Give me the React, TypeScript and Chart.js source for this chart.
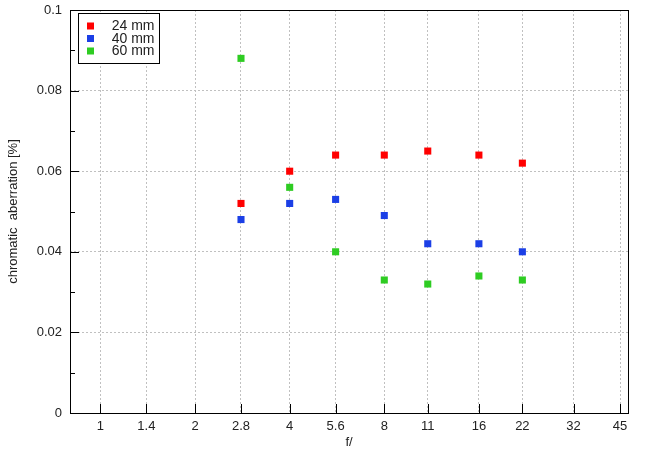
import React, { useEffect, useRef } from "react"
import { Chart, registerables } from "chart.js"

Chart.register(...registerables)

// f-numbers measured, and the f-number ticks on the x axis
const apertures = [2.8, 4, 5.6, 8, 11, 16, 22]
const xTickValues = [1, 1.4, 2, 2.8, 4, 5.6, 8, 11, 16, 22, 32, 45]

const seriesLabels = ["24 mm", "40 mm", "60 mm"]
const ca24 = [0.052, 0.06, 0.064, 0.064, 0.065, 0.064, 0.062]
const ca40 = [0.048, 0.052, 0.053, 0.049, 0.042, 0.042, 0.04]
const ca60 = [0.088, 0.056, 0.04, 0.033, 0.032, 0.034, 0.033]
const seriesColors = ["#ff0000", "#1b3fe6", "#2ecc22"]

const FONT = "'Liberation Sans', Arial, sans-serif"

// black frame around the plot plus inward tick marks
const framePlugin = {
  id: "frame",
  afterDatasetsDraw(chart: any) {
    const { ctx, chartArea: a, scales } = chart
    ctx.save()
    ctx.setLineDash([])
    ctx.strokeStyle = "#000"
    ctx.lineWidth = 1
    ctx.beginPath()
    xTickValues.forEach((v) => {
      const px = Math.round(scales.x.getPixelForValue(v)) + 0.5
      ctx.moveTo(px, a.bottom)
      ctx.lineTo(px, a.bottom - 9)
    })
    for (let i = 1; i < 10; i++) {
      const py = Math.round(scales.y.getPixelForValue(i / 100)) + 0.5
      ctx.moveTo(a.left, py)
      ctx.lineTo(a.left + (i % 2 === 0 ? 9 : 5), py)
    }
    ctx.stroke()
    ctx.strokeRect(
      Math.round(a.left) + 0.5,
      Math.round(a.top) + 0.5,
      Math.round(a.right - a.left),
      Math.round(a.bottom - a.top)
    )
    ctx.restore()
  },
}

// boxed legend in the top-left corner of the plot
const legendBoxPlugin = {
  id: "legendBox",
  afterDraw(chart: any) {
    const { ctx, chartArea: a } = chart
    const x0 = Math.round(a.left) + 8.5
    const y0 = Math.round(a.top) + 3.5
    ctx.save()
    ctx.setLineDash([])
    ctx.fillStyle = "#fff"
    ctx.fillRect(x0, y0, 81, 50)
    ctx.strokeStyle = "#000"
    ctx.lineWidth = 1
    ctx.strokeRect(x0, y0, 81, 50)
    ctx.font = `14px ${FONT}`
    ctx.textAlign = "right"
    ctx.textBaseline = "middle"
    chart.data.datasets.forEach((ds: any, i: number) => {
      const cy = y0 + 12.5 + i * 12.5
      ctx.fillStyle = ds.backgroundColor
      ctx.fillRect(x0 + 8.5, cy - 3.5, 7, 7)
      ctx.fillStyle = "#222"
      ctx.fillText(ds.label, x0 + 76, cy + 0.5)
    })
    ctx.restore()
  },
}

const ChromaticChart: React.FC = () => {
  const canvasRef = useRef<HTMLCanvasElement | null>(null)

  useEffect(() => {
    document.body.style.margin = "0"
    if (!canvasRef.current) return
    const ctx = canvasRef.current.getContext("2d")
    if (!ctx) return

    const seriesValues = [ca24, ca40, ca60]
    const chart = new Chart(ctx, {
      type: "scatter",
      data: {
        datasets: seriesValues.map((vals, i) => ({
          label: seriesLabels[i],
          data: apertures.map((f, j) => ({ x: f, y: vals[j] })),
          backgroundColor: seriesColors[i],
          borderColor: seriesColors[i],
          borderWidth: 0,
          pointStyle: "rect",
          pointRadius: 5,
          pointHoverRadius: 5,
        })),
      },
      options: {
        responsive: false,
        animation: false,
        layout: { padding: { top: 10, right: 22, left: 0, bottom: 0 } },
        plugins: {
          legend: { display: false },
          tooltip: { enabled: false },
        },
        scales: {
          x: {
            type: "logarithmic",
            min: 0.8,
            max: 47.7,
            afterBuildTicks: (scale: any) => {
              scale.ticks = xTickValues.map((v) => ({ value: v }))
            },
            afterFit: (scale: any) => {
              scale.height = 37
              scale.paddingLeft = 0
              scale.paddingRight = 0
            },
            ticks: {
              autoSkip: false,
              maxRotation: 0,
              padding: 6,
              color: "#222",
              font: { family: FONT, size: 13 },
              callback: (v: any) => String(v),
            },
            grid: {
              color: "#c0c0c0",
              lineWidth: 1,
              drawTicks: false,
            },
            border: { display: false, dash: [2, 2] },
            title: {
              display: true,
              text: "f/",
              color: "#222",
              font: { family: FONT, size: 13 },
              padding: { top: 0, bottom: 0 },
            },
          },
          y: {
            min: 0,
            max: 0.1,
            afterFit: (scale: any) => {
              scale.width = 70
              scale.paddingTop = 0
              scale.paddingBottom = 0
            },
            ticks: {
              stepSize: 0.02,
              padding: 8,
              color: "#222",
              font: { family: FONT, size: 13 },
              callback: (v: any) => String(Number(Number(v).toFixed(3))),
            },
            grid: {
              color: "#c0c0c0",
              lineWidth: 1,
              drawTicks: false,
            },
            border: { display: false, dash: [2, 2] },
            title: {
              display: true,
              text: "chromatic  aberration [%]",
              color: "#222",
              font: { family: FONT, size: 13 },
              padding: { top: 6, bottom: 0 },
            },
          },
        },
      },
      plugins: [framePlugin, legendBoxPlugin],
    })

    return () => {
      chart.destroy()
    }
  }, [])

  return (
    <div style={{ width: 650, height: 450, background: "#fff" }}>
      <canvas ref={canvasRef} width={650} height={450} />
    </div>
  )
}

export default function App() {
  return <ChromaticChart />
}
